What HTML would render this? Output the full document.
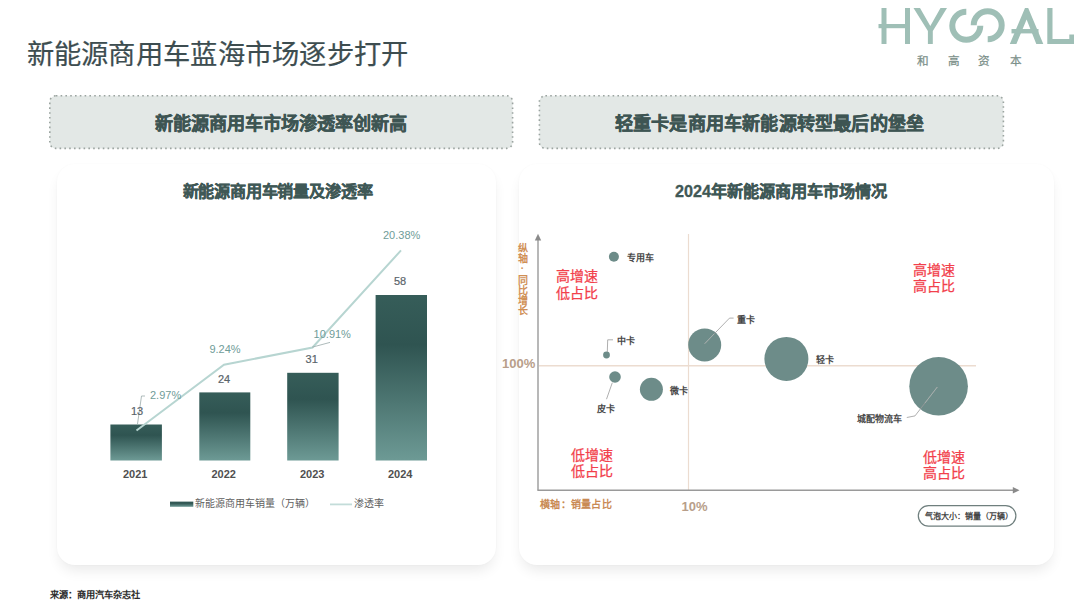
<!DOCTYPE html>
<html lang="zh-CN"><head><meta charset="utf-8">
<style>
*{margin:0;padding:0;box-sizing:border-box}
html,body{width:1080px;height:606px;overflow:hidden;background:#fff}
body{position:relative;font-family:"Liberation Sans",sans-serif;color:#333}
.abs{position:absolute;white-space:nowrap;line-height:1}
.title{left:26.5px;top:40.5px;font-size:27.3px;letter-spacing:0.3px;color:#3d4d50;-webkit-text-stroke:0.2px #3d4d50}
.hbox{position:absolute;top:95px;height:54px;text-align:center;font-weight:bold;font-size:18.15px;line-height:51px;padding-top:3.5px;color:#3e5553;-webkit-text-stroke:0.4px #3e5553}
.card{position:absolute;top:164px;height:401px;background:#fff;border-radius:18px;box-shadow:0 8px 14px -3px rgba(0,0,0,0.09),0 0 2px rgba(0,0,0,0.03)}
.ctitle{font-weight:bold;font-size:16.2px;color:#3f5856;-webkit-text-stroke:0.3px #3f5856}
.lbl{font-size:11px;color:#5a646a;-webkit-text-stroke:0.2px #5a646a}
.pct{font-size:11px;color:#6f9c98}
.yr{font-size:11px;color:#505050;font-weight:bold}
.q{font-size:14px;color:#f2404b;line-height:16px;-webkit-text-stroke:0.25px #f2404b}
.bl{font-size:9px;color:#484848;font-weight:bold}
.src{left:49.5px;top:590.5px;font-size:9.2px;color:#2a2a2a;font-weight:bold}
</style></head><body>

<div class="abs title">新能源商用车蓝海市场逐步打开</div>

<!-- logo -->
<svg class="abs" style="left:0;top:0" width="1080" height="80" viewBox="0 0 1080 80">
  <g fill="#9fbfb6">
    <!-- H -->
    <rect x="881.5" y="8" width="5" height="36"/>
    <rect x="905" y="8" width="5" height="36"/>
    <rect x="878.5" y="24" width="31" height="4.2"/>
    <!-- Y -->
    <polygon points="913.5,8 920,8 930.3,26 940.5,8 947,8 932.8,31 932.8,44 927.9,44 927.9,31"/>
    <!-- A -->
    <polygon points="1025,8 1028.2,8 1043.3,44 1036.3,44 1026.6,19.5 1016.4,44 1009.8,44"/>
    <rect x="1011.5" y="29" width="27" height="4.4"/>
    <!-- L -->
    <polygon points="1047.3,8 1052.5,8 1052.5,39 1069.3,39 1069.3,34.6 1074,34.6 1074,44 1047.3,44"/>
  </g>
  <g fill="none" stroke="#9fbfb6" stroke-width="6">
    <!-- G arc: from 12 o'clock CCW to 3 o'clock -->
    <path d="M966.3,11.7 A14,14 0 1 0 980.3,25.7"/>
    <!-- O arc: from 9 o'clock CW to 6 o'clock -->
    <path d="M973.7,25.2 A14,14 0 1 1 987.7,39.2"/>
  </g>
  <g font-size="11.6" fill="#7d918b" stroke="#7d918b" stroke-width="0.25">
    <text x="917" y="65.3">和</text>
    <text x="947.7" y="65.3">高</text>
    <text x="978.4" y="65.3">资</text>
    <text x="1009.7" y="65.3">本</text>
  </g>
</svg>

<svg class="abs" style="left:0;top:0" width="1080" height="160" viewBox="0 0 1080 160">
  <g fill="#e3e8e6" stroke="#9ba4a0" stroke-width="1.6" stroke-dasharray="1.6 3.2">
    <rect x="49.8" y="95.8" width="462.8" height="52.6" rx="6"/>
    <rect x="539.4" y="95.8" width="464" height="52.6" rx="6"/>
  </g>
</svg>
<div class="hbox" style="left:49px;width:464px">新能源商用车市场渗透率创新高</div>
<div class="hbox" style="left:539px;width:465px;letter-spacing:0.2px;padding-right:4px">轻重卡是商用车新能源转型最后的堡垒</div>

<div class="card" style="left:57px;width:439px"></div>
<div class="card" style="left:519px;width:535px"></div>

<!-- LEFT CHART -->
<div class="abs ctitle" style="left:182.5px;top:183px;letter-spacing:-0.18px">新能源商用车销量及渗透率</div>
<svg class="abs" style="left:0;top:0" width="540" height="606" viewBox="0 0 540 606">
  <defs>
    <linearGradient id="bg" x1="0" y1="0" x2="0" y2="1">
      <stop offset="0" stop-color="#365d59"/>
      <stop offset="0.3" stop-color="#2f5451"/>
      <stop offset="1" stop-color="#6d9a95"/>
    </linearGradient>
  </defs>
  <rect x="110.4" y="424.5" width="51.5" height="36" fill="url(#bg)"/>
  <rect x="199.3" y="392.4" width="51" height="68.1" fill="url(#bg)"/>
  <rect x="287.2" y="372.8" width="51.4" height="87.7" fill="url(#bg)"/>
  <rect x="375.6" y="295" width="51.4" height="165.5" fill="url(#bg)"/>
  <polyline points="136.5,430.5 224,364.7 312.5,347.5 401,250.4" fill="none" stroke="#b7d5d1" stroke-width="2"/>
  <!-- leaders -->
  <polyline points="145,396 141.5,396 137.5,424" fill="none" stroke="#9aa" stroke-width="0.8"/>
  <polyline points="330,342.4 312.2,347.2" fill="none" stroke="#9aa" stroke-width="0.8"/>
  <!-- legend -->
  <rect x="170" y="501.6" width="23.3" height="5.2" fill="url(#bg)"/>
  <line x1="330" y1="504.4" x2="352" y2="504.4" stroke="#c3dcd9" stroke-width="1.8"/>
</svg>
<div class="abs lbl" style="left:131px;top:406px">13</div>
<div class="abs lbl" style="left:218px;top:374px">24</div>
<div class="abs lbl" style="left:305.6px;top:354px">31</div>
<div class="abs lbl" style="left:394px;top:276px">58</div>
<div class="abs pct" style="left:150px;top:390px">2.97%</div>
<div class="abs pct" style="left:209.4px;top:343.5px">9.24%</div>
<div class="abs pct" style="left:313.6px;top:329px">10.91%</div>
<div class="abs pct" style="left:383px;top:229.5px">20.38%</div>
<div class="abs yr" style="left:123px;top:468.5px">2021</div>
<div class="abs yr" style="left:211.5px;top:468.5px">2022</div>
<div class="abs yr" style="left:300px;top:468.5px">2023</div>
<div class="abs yr" style="left:388px;top:468.5px">2024</div>
<div class="abs" style="left:195px;top:499px;font-size:10px;color:#606060">新能源商用车销量（万辆）</div>
<div class="abs" style="left:354.4px;top:499px;font-size:10px;color:#606060">渗透率</div>

<!-- RIGHT CHART -->
<div class="abs ctitle" style="left:675px;top:183px">2024年新能源商用车市场情况</div>
<svg class="abs" style="left:0;top:0" width="1080" height="606" viewBox="0 0 1080 606">
  <!-- reference lines -->
  <line x1="539" y1="365.8" x2="976" y2="365.8" stroke="#ecdcd0" stroke-width="1.5"/>
  <line x1="688.5" y1="234" x2="688.5" y2="490" stroke="#ecdcd0" stroke-width="1.2"/>
  <!-- axes -->
  <line x1="538" y1="239" x2="538" y2="490.5" stroke="#9a9a9a" stroke-width="1.4"/>
  <line x1="537.5" y1="490.3" x2="1014" y2="490.3" stroke="#9a9a9a" stroke-width="1.4"/>
  <polygon points="538,233.8 534.8,240.5 541.2,240.5" fill="#8a8a8a"/>
  <polygon points="1019.5,490.3 1012.8,487 1012.8,493.6" fill="#8a8a8a"/>
  <!-- bubbles -->
  <g fill="#6d8c89">
    <circle cx="613.9" cy="256.7" r="5"/>
    <circle cx="606.5" cy="355" r="3.4"/>
    <circle cx="615" cy="377" r="5.8"/>
    <circle cx="651.4" cy="389.3" r="11.5"/>
    <circle cx="704.7" cy="344.9" r="16.5"/>
    <circle cx="786.4" cy="358.9" r="22"/>
    <circle cx="938.6" cy="386.2" r="29.3"/>
  </g>
  <g fill="none" stroke="#9a9a9a" stroke-width="0.8">
    <polyline points="607.3,352 607.7,339.8 613,339.8"/>
    <polyline points="612.3,382.7 606.5,399.2"/>
    <polyline points="704.7,343.7 729.5,318.1 733.6,318.1"/>
    <polyline points="937.3,387 915,415.9 906.8,417.5"/>
  </g>
  <g stroke="#a9b5b3" stroke-width="0.8" fill="none">
    <polyline points="704.7,343.7 714,334"/>
    <polyline points="937.3,387 925,403"/>
  </g>
  <!-- pill -->
  <rect x="918.3" y="505.6" width="97.6" height="20.5" rx="10.25" fill="#fff" stroke="#6f7f7e" stroke-width="1.2"/>
</svg>
<div class="abs" style="left:517px;top:244px;width:11px;font-size:10px;line-height:10.3px;color:#d08f55;font-weight:bold;white-space:normal;text-align:center"><div>纵</div><div>轴</div><div style="height:11px;line-height:8px">·</div><div>同</div><div>比</div><div>增</div><div>长</div></div>
<div class="abs" style="left:502px;top:356.5px;font-size:13px;font-weight:bold;color:#b89e8a">100%</div>
<div class="abs" style="left:681.5px;top:500px;font-size:13px;font-weight:bold;color:#b89e8a">10%</div>
<div class="abs" style="left:540px;top:499.5px;font-size:10px;letter-spacing:0.3px;font-weight:bold;color:#c98a55">横轴：销量占比</div>

<div class="abs q" style="left:555.5px;top:267.5px;line-height:17px">高增速<br>低占比</div>
<div class="abs q" style="left:913px;top:262px">高增速<br>高占比</div>
<div class="abs q" style="left:570.5px;top:447px">低增速<br>低占比</div>
<div class="abs q" style="left:923.3px;top:449px">低增速<br>高占比</div>

<div class="abs bl" style="left:627.2px;top:253.7px">专用车</div>
<div class="abs bl" style="left:617.2px;top:336.7px">中卡</div>
<div class="abs bl" style="left:596.6px;top:404.7px">皮卡</div>
<div class="abs bl" style="left:670px;top:386.7px">微卡</div>
<div class="abs bl" style="left:737px;top:315.7px">重卡</div>
<div class="abs bl" style="left:816.1px;top:356.2px">轻卡</div>
<div class="abs bl" style="left:856.5px;top:415.2px">城配物流车</div>
<div class="abs" style="left:924.5px;top:512.5px;font-size:8px;letter-spacing:0px;font-weight:bold;color:#444">气泡大小：销量（万辆）</div>

<div class="abs src">来源：商用汽车杂志社</div>
</body></html>
